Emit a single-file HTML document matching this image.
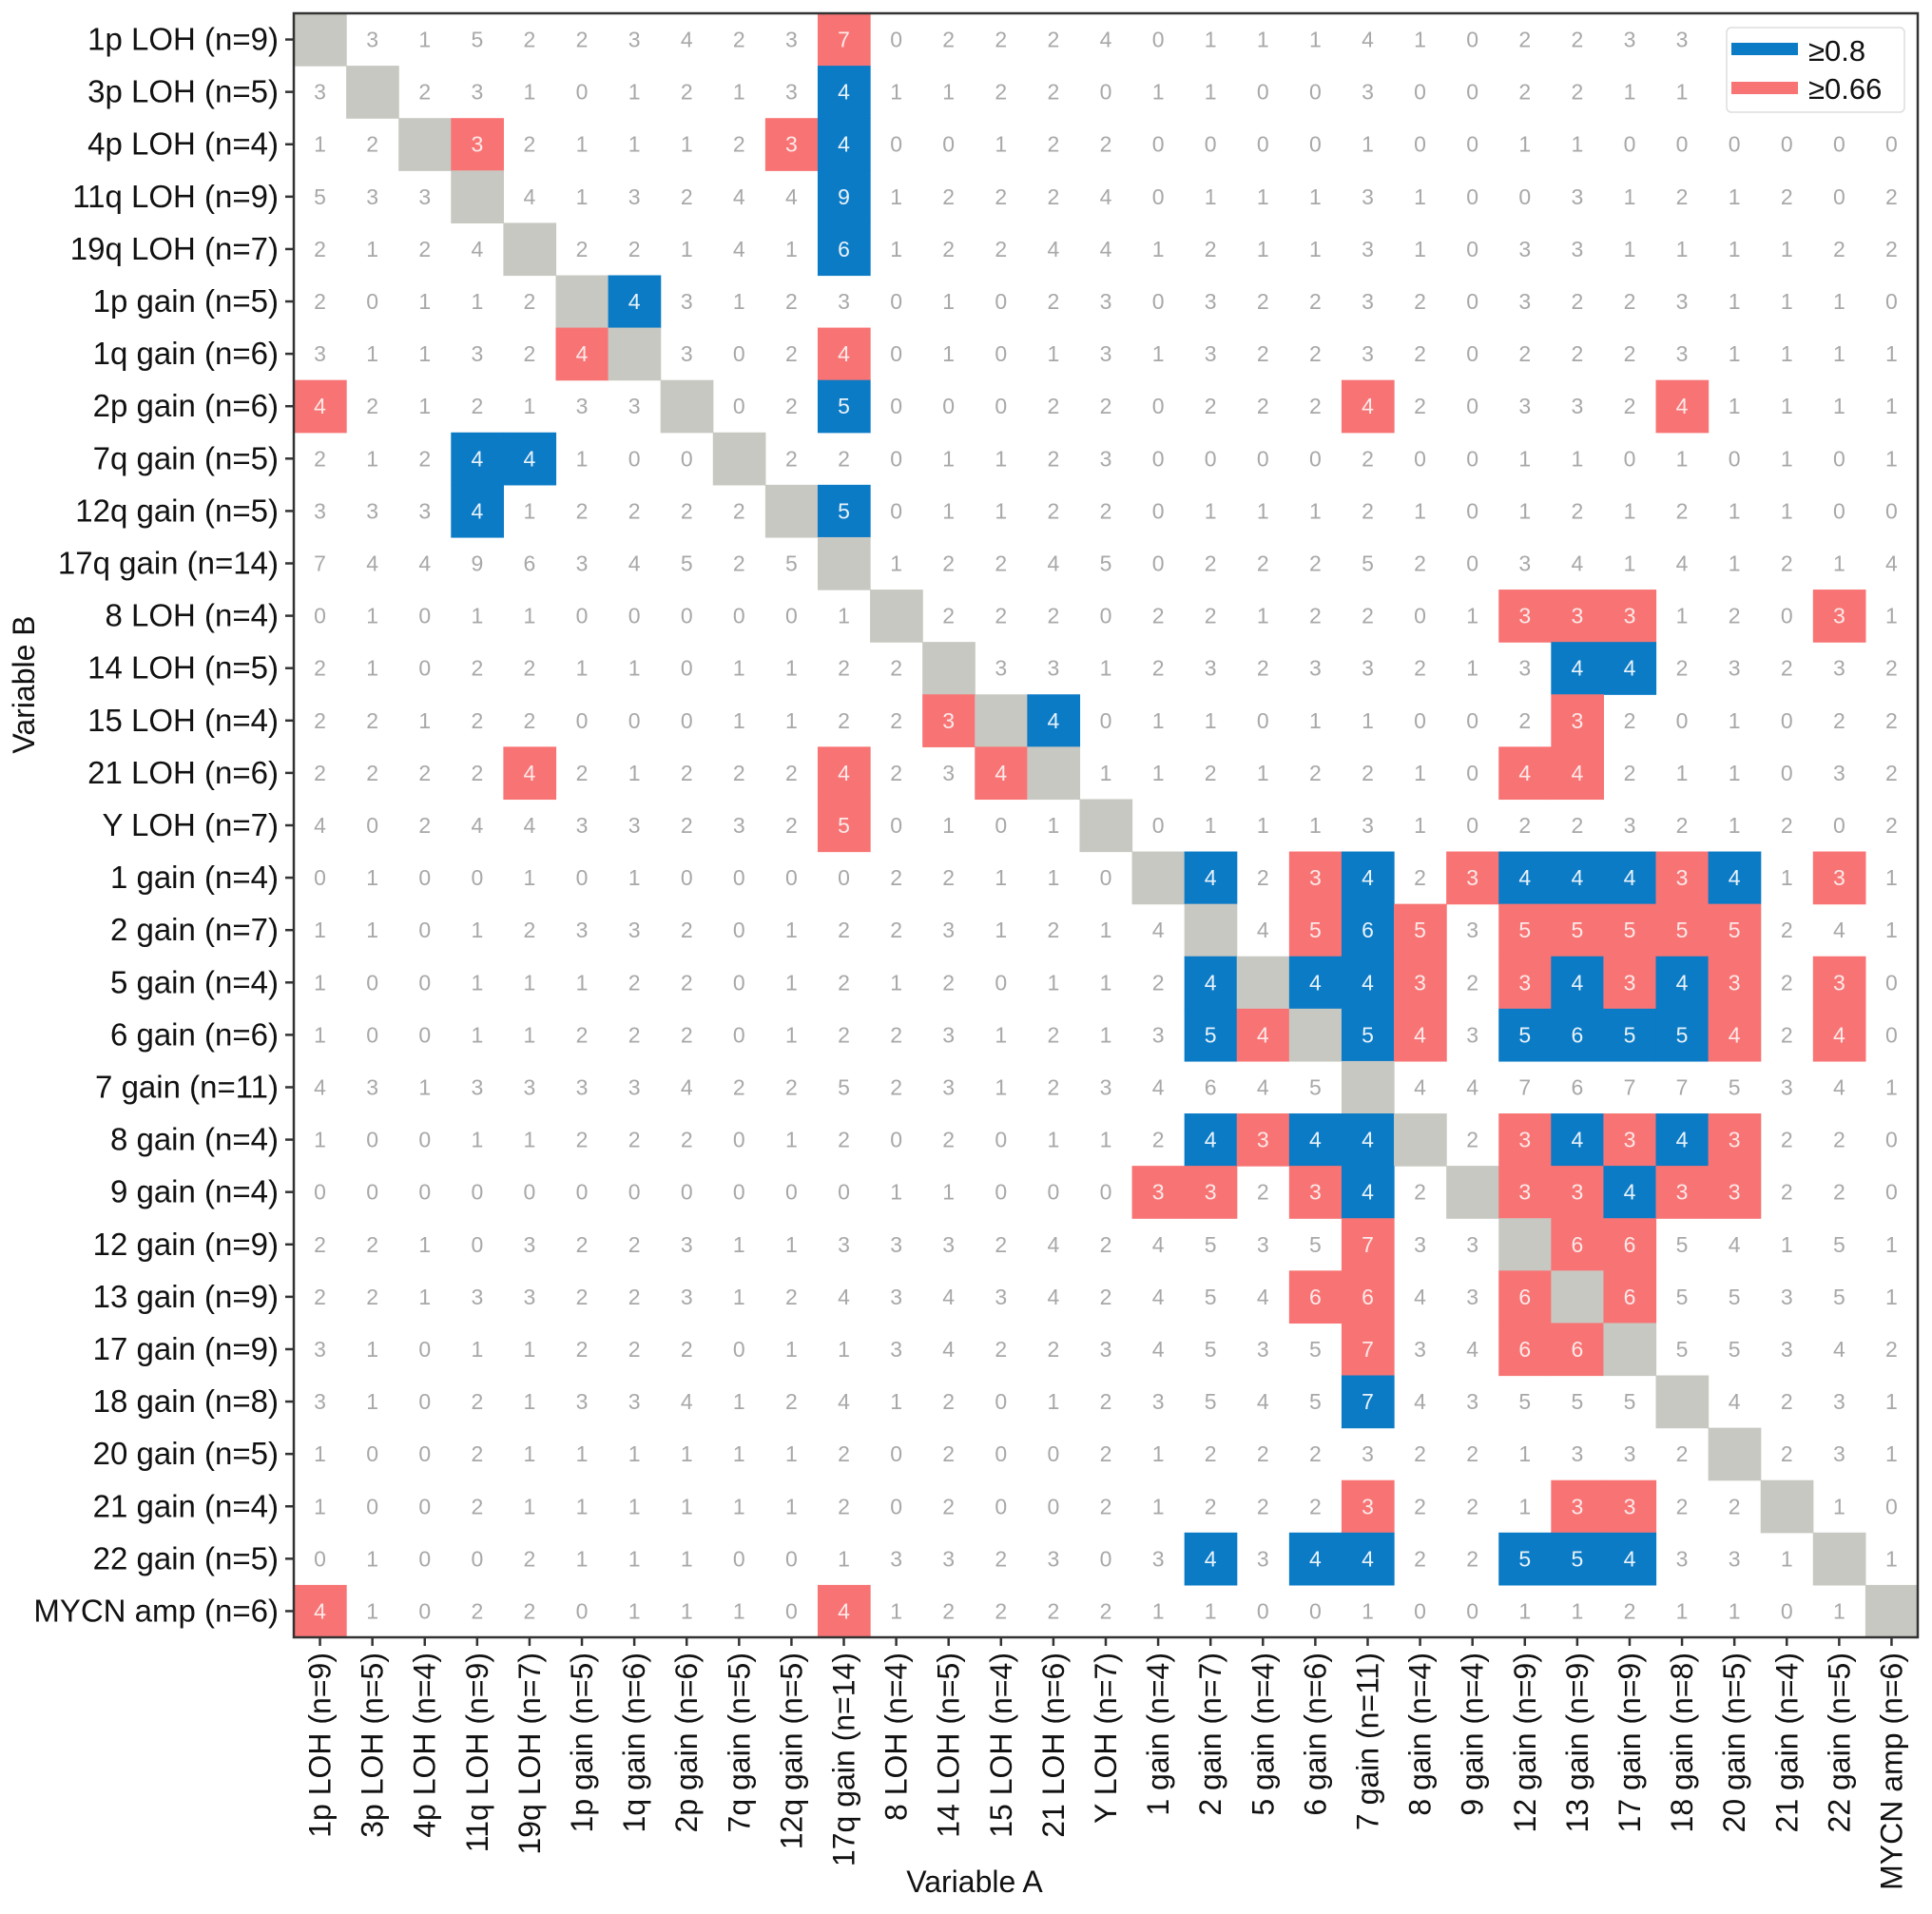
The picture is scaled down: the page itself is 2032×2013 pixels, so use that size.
<!DOCTYPE html>
<html><head><meta charset="utf-8">
<style>
html,body{margin:0;padding:0;background:#fff;}
svg{display:block;font-family:"Liberation Sans","DejaVu Sans",sans-serif;}
</style></head>
<body>
<svg id="chart" width="2032" height="2013" viewBox="0 0 2032 2013" xmlns="http://www.w3.org/2000/svg">
<g id="cells"></g>
<g id="ylabels"></g>
<g id="xlabels"></g>
<rect x="309" y="14" width="1708" height="1708" fill="none" stroke="#333" stroke-width="2.5"/>
<text x="1025" y="1990" font-size="32" text-anchor="middle" fill="#111">Variable A</text>
<text x="0" y="0" font-size="32" text-anchor="middle" fill="#111" transform="translate(36,720) rotate(-90)">Variable B</text>
<g>
<rect x="1816" y="29" width="187" height="89" rx="5" fill="#fff" stroke="#ddd" stroke-width="1.5"/>
<rect x="1821" y="45" width="70" height="13" fill="#0b7bc6"/>
<text x="1902" y="64" font-size="31" fill="#111">≥0.8</text>
<rect x="1821" y="86" width="70" height="13" fill="#f87474"/>
<text x="1902" y="104" font-size="31" fill="#111">≥0.66</text>
</g>
</svg>
<script>
const labels = ["1p LOH","3p LOH","4p LOH","11q LOH","19q LOH","1p gain","1q gain","2p gain","7q gain","12q gain","17q gain","8 LOH","14 LOH","15 LOH","21 LOH","Y LOH","1 gain","2 gain","5 gain","6 gain","7 gain","8 gain","9 gain","12 gain","13 gain","17 gain","18 gain","20 gain","21 gain","22 gain","MYCN amp"];
const nCounts = [9,5,4,9,7,5,6,6,5,5,14,4,5,4,6,7,4,7,4,6,11,4,4,9,9,9,8,5,4,5,6];
const counts = [
[-1,3,1,5,2,2,3,4,2,3,7,0,2,2,2,4,0,1,1,1,4,1,0,2,2,3,3,1,1,0,4],
[3,-1,2,3,1,0,1,2,1,3,4,1,1,2,2,0,1,1,0,0,3,0,0,2,2,1,1,0,0,1,1],
[1,2,-1,3,2,1,1,1,2,3,4,0,0,1,2,2,0,0,0,0,1,0,0,1,1,0,0,0,0,0,0],
[5,3,3,-1,4,1,3,2,4,4,9,1,2,2,2,4,0,1,1,1,3,1,0,0,3,1,2,1,2,0,2],
[2,1,2,4,-1,2,2,1,4,1,6,1,2,2,4,4,1,2,1,1,3,1,0,3,3,1,1,1,1,2,2],
[2,0,1,1,2,-1,4,3,1,2,3,0,1,0,2,3,0,3,2,2,3,2,0,3,2,2,3,1,1,1,0],
[3,1,1,3,2,4,-1,3,0,2,4,0,1,0,1,3,1,3,2,2,3,2,0,2,2,2,3,1,1,1,1],
[4,2,1,2,1,3,3,-1,0,2,5,0,0,0,2,2,0,2,2,2,4,2,0,3,3,2,4,1,1,1,1],
[2,1,2,4,4,1,0,0,-1,2,2,0,1,1,2,3,0,0,0,0,2,0,0,1,1,0,1,0,1,0,1],
[3,3,3,4,1,2,2,2,2,-1,5,0,1,1,2,2,0,1,1,1,2,1,0,1,2,1,2,1,1,0,0],
[7,4,4,9,6,3,4,5,2,5,-1,1,2,2,4,5,0,2,2,2,5,2,0,3,4,1,4,1,2,1,4],
[0,1,0,1,1,0,0,0,0,0,1,-1,2,2,2,0,2,2,1,2,2,0,1,3,3,3,1,2,0,3,1],
[2,1,0,2,2,1,1,0,1,1,2,2,-1,3,3,1,2,3,2,3,3,2,1,3,4,4,2,3,2,3,2],
[2,2,1,2,2,0,0,0,1,1,2,2,3,-1,4,0,1,1,0,1,1,0,0,2,3,2,0,1,0,2,2],
[2,2,2,2,4,2,1,2,2,2,4,2,3,4,-1,1,1,2,1,2,2,1,0,4,4,2,1,1,0,3,2],
[4,0,2,4,4,3,3,2,3,2,5,0,1,0,1,-1,0,1,1,1,3,1,0,2,2,3,2,1,2,0,2],
[0,1,0,0,1,0,1,0,0,0,0,2,2,1,1,0,-1,4,2,3,4,2,3,4,4,4,3,4,1,3,1],
[1,1,0,1,2,3,3,2,0,1,2,2,3,1,2,1,4,-1,4,5,6,5,3,5,5,5,5,5,2,4,1],
[1,0,0,1,1,1,2,2,0,1,2,1,2,0,1,1,2,4,-1,4,4,3,2,3,4,3,4,3,2,3,0],
[1,0,0,1,1,2,2,2,0,1,2,2,3,1,2,1,3,5,4,-1,5,4,3,5,6,5,5,4,2,4,0],
[4,3,1,3,3,3,3,4,2,2,5,2,3,1,2,3,4,6,4,5,-1,4,4,7,6,7,7,5,3,4,1],
[1,0,0,1,1,2,2,2,0,1,2,0,2,0,1,1,2,4,3,4,4,-1,2,3,4,3,4,3,2,2,0],
[0,0,0,0,0,0,0,0,0,0,0,1,1,0,0,0,3,3,2,3,4,2,-1,3,3,4,3,3,2,2,0],
[2,2,1,0,3,2,2,3,1,1,3,3,3,2,4,2,4,5,3,5,7,3,3,-1,6,6,5,4,1,5,1],
[2,2,1,3,3,2,2,3,1,2,4,3,4,3,4,2,4,5,4,6,6,4,3,6,-1,6,5,5,3,5,1],
[3,1,0,1,1,2,2,2,0,1,1,3,4,2,2,3,4,5,3,5,7,3,4,6,6,-1,5,5,3,4,2],
[3,1,0,2,1,3,3,4,1,2,4,1,2,0,1,2,3,5,4,5,7,4,3,5,5,5,-1,4,2,3,1],
[1,0,0,2,1,1,1,1,1,1,2,0,2,0,0,2,1,2,2,2,3,2,2,1,3,3,2,-1,2,3,1],
[1,0,0,2,1,1,1,1,1,1,2,0,2,0,0,2,1,2,2,2,3,2,2,1,3,3,2,2,-1,1,0],
[0,1,0,0,2,1,1,1,0,0,1,3,3,2,3,0,3,4,3,4,4,2,2,5,5,4,3,3,1,-1,1],
[4,1,0,2,2,0,1,1,1,0,4,1,2,2,2,2,1,1,0,0,1,0,0,1,1,2,1,1,0,1,-1]
];
const thresholds = [0.8, 0.66];

const NS = "http://www.w3.org/2000/svg";
const X0 = 309, Y0 = 14, W = 1708, H = 1708;
const N = labels.length;
const cw = W / N, ch = H / N;
function xPos(i){ return X0 + i * cw; }
function yPos(i){ return Y0 + i * ch; }
function mk(tag, attrs){ const e = document.createElementNS(NS, tag); for (const k in attrs) e.setAttribute(k, attrs[k]); return e; }

const gC = document.getElementById("cells");
for (let r = 0; r < N; r++) {
  for (let c = 0; c < N; c++) {
    const v = counts[r][c];
    let fill = null, tc = "#a8a8a8";
    if (r === c) fill = "#c8c8c2";
    else {
      const ratio = v / nCounts[r];
      if (ratio >= thresholds[0] - 1e-9) { fill = "#0b7bc6"; tc = "#e8f2fa"; }
      else if (ratio >= thresholds[1] - 1e-9) { fill = "#f87474"; tc = "#fde9e9"; }
    }
    if (fill) {
      const rc = mk("rect", {x: xPos(c), y: yPos(r), width: cw + 0.6, height: ch + 0.6, fill: fill});
      
      
      gC.appendChild(rc);
    }
    if (r !== c) {
      const t = mk("text", {x: xPos(c) + cw / 2, y: yPos(r) + ch / 2 + 8, "font-size": 23, "text-anchor": "middle", fill: tc});
      
      
      t.textContent = v;
      gC.appendChild(t);
    }
  }
}

const gY = document.getElementById("ylabels");
const gX = document.getElementById("xlabels");
for (let i = 0; i < N; i++) {
  const name = labels[i] + " (n=" + nCounts[i] + ")";
  const yc = yPos(i) + ch / 2;
  const tk = mk("line", {x1: X0 - 9, x2: X0, y1: yc, y2: yc, stroke: "#333", "stroke-width": 2.5});
  
  
  gY.appendChild(tk);
  const t = mk("text", {x: X0 - 16, y: yc + 11, "font-size": 33, "text-anchor": "end", fill: "#111"});
  
  
  t.textContent = name;
  gY.appendChild(t);

  const xc = xPos(i) + cw / 2;
  const tx = mk("line", {x1: xc, x2: xc, y1: Y0 + H, y2: Y0 + H + 9, stroke: "#333", "stroke-width": 2.5});
  
  
  gX.appendChild(tx);
  const lx = mk("text", {x: 0, y: 0, "font-size": 32, "text-anchor": "end", fill: "#111", transform: "translate(" + (xc + 11) + "," + (Y0 + H + 16) + ") rotate(-90)"});
  
  
  lx.textContent = name;
  gX.appendChild(lx);
}
</script>
</body></html>
